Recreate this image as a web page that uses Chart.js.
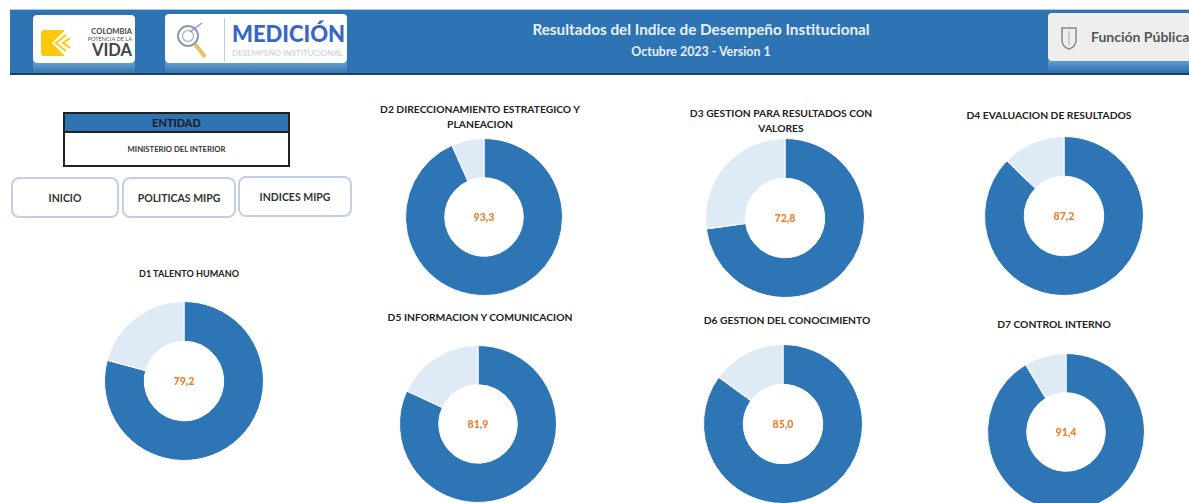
<!DOCTYPE html>
<html lang="es">
<head>
<meta charset="utf-8">
<title>Resultados del Indice de Desempeño Institucional</title>
<script src="https://cdn.jsdelivr.net/npm/chart.js@4"></script>
<style>
  html, body { margin: 0; width: 1189px; height: 503px; overflow: hidden; background: #fff; font-family: Lato, "Open Sans", sans-serif; }
  .abs { position: absolute; box-sizing: border-box; }
  #header { left: 10px; top: 9px; width: 1179px; height: 66px; background: #2e74b5; border-top: 1px solid #a9cbe6; border-bottom: 2px solid #1f3f5f; }
  .logo { background: #fff; border-radius: 4px; }
  .reflejo { top: 63px; height: 10px; background: linear-gradient(rgba(255,255,255,.28), rgba(255,255,255,.02)); }
  .head-txt { left: 347px; width: 708px; text-align: center; color: #e8f0f8; font-weight: 700; }
  #entidad { left: 63px; top: 112px; width: 227px; height: 55px; border: 2px solid #222; background: #fff; text-align: center; }
  #entidad .top { background: #2e74b5; height: 17px; line-height: 17px; font-size: 11px; font-weight: 700; color: #1a1a1a; border-bottom: 2px solid #222; box-sizing: content-box; }
  #entidad .bot { font-size: 7.7px; line-height: 33px; color: #333; font-weight: 700; }
  .btn { border: 2px solid #c3cfe6; border-radius: 8px; background: #fff; display: flex; align-items: center; justify-content: center; font-size: 10.5px; font-weight: 700; color: #333; }
  .titulo { width: 260px; text-align: center; font-size: 10.3px; line-height: 15px; font-weight: 700; color: #222; }
  .valor { width: 60px; text-align: center; font-size: 10.5px; line-height: 14px; font-weight: 900; color: #ed7d31; }
</style>
</head>
<body>
<div id="header" class="abs"></div>
<div class="abs reflejo" style="left:33px;width:102px"></div>
<div class="abs reflejo" style="left:165px;width:182px"></div>
<div class="abs reflejo" style="left:1048px;width:141px;top:61px"></div>
<div class="abs logo" style="left:33px;top:15px;width:102px;height:48px"></div>
<svg class="abs" style="left:41px;top:29px" width="36" height="28" viewBox="0 0 36 28">
  <path d="M3 1 H24 L11 14 L24 27 H3 Q0 27 0 24 V4 Q0 1 3 1 Z" fill="#fcc80c"/>
  <path d="M25 6 L15 14 L25 22" fill="none" stroke="#fcc80c" stroke-width="2"/>
  <path d="M29 9 L22 14 L29 19" fill="none" stroke="#fcc80c" stroke-width="2"/>
</svg>
<div class="abs" style="left:72px;top:28px;width:60px;text-align:right;font-size:7.6px;line-height:7px;font-weight:700;color:#444">COLOMBIA</div>
<div class="abs" style="left:72px;top:36px;width:60px;text-align:right;font-size:5.6px;line-height:5px;color:#555">POTENCIA DE LA</div>
<div class="abs" style="left:72px;top:42px;width:60px;text-align:right;font-size:16.5px;line-height:16px;font-weight:700;color:#444">VIDA</div>
<div class="abs logo" style="left:165px;top:14px;width:182px;height:49px"></div>
<svg class="abs" style="left:172px;top:20px" width="40" height="42" viewBox="0 0 40 42">
  <circle cx="16" cy="16" r="10" fill="none" stroke="#8c9aa8" stroke-width="2"/>
  <circle cx="16" cy="16" r="5.5" fill="none" stroke="#b4bfca" stroke-width="1.5"/>
  <line x1="18" y1="12" x2="30" y2="3" stroke="#7f9cc4" stroke-width="1.5"/>
  <line x1="23" y1="24" x2="33" y2="37" stroke="#e8c268" stroke-width="4"/>
</svg>
<div class="abs" style="left:224px;top:18px;width:1px;height:44px;background:#b8cde0"></div>
<div class="abs" style="left:232px;top:20px;font-size:22px;line-height:28px;font-weight:900;color:#3766c8">MEDICIÓN</div>
<div class="abs" style="left:232px;top:48px;font-size:8px;line-height:10px;color:#c3cfdd;white-space:nowrap">DESEMPEÑO INSTITUCIONAL</div>
<div class="abs head-txt" style="top:20px;font-size:15.3px;line-height:18px">Resultados del Indice de Desempeño Institucional</div>
<div class="abs head-txt" style="top:44px;font-size:12.4px;line-height:15px">Octubre 2023 - Version 1</div>
<div class="abs" style="left:1048px;top:13px;width:141px;height:48px;background:#eeeeee;border-radius:4px 0 0 4px"></div>
<svg class="abs" style="left:1059px;top:25px" width="20" height="26" viewBox="0 0 20 26">
  <path d="M3 3 H17 V15 Q17 22 10 24 Q3 22 3 15 Z" fill="none" stroke="#888" stroke-width="1.5"/>
  <line x1="10" y1="6" x2="10" y2="20" stroke="#aaa" stroke-width="1"/>
</svg>
<div class="abs" style="left:1091px;top:28px;font-size:14px;line-height:18px;font-weight:700;color:#555;white-space:nowrap">Función Pública</div>

<div id="entidad" class="abs"><div class="top">ENTIDAD</div><div class="bot">MINISTERIO DEL INTERIOR</div></div>
<div class="abs btn" style="left:11px;top:177px;width:108px;height:41px">INICIO</div>
<div class="abs btn" style="left:122px;top:177px;width:114px;height:41px">POLITICAS MIPG</div>
<div class="abs btn" style="left:238px;top:176px;width:114px;height:41px">INDICES MIPG</div>

<script>
// --- valori ---
const titulos = [
  "D1 TALENTO HUMANO",
  "D2 DIRECCIONAMIENTO ESTRATEGICO Y<br>PLANEACION",
  "D3 GESTION PARA RESULTADOS CON<br>VALORES",
  "D4 EVALUACION DE RESULTADOS",
  "D5 INFORMACION Y COMUNICACION",
  "D6 GESTION DEL CONOCIMIENTO",
  "D7 CONTROL INTERNO"
];
const valores = [79.2, 93.3, 72.8, 87.2, 81.9, 85.0, 91.4];
const restos  = [20.8, 6.7, 27.2, 12.8, 18.1, 15.0, 8.6];
const etiquetas = ["79,2", "93,3", "72,8", "87,2", "81,9", "85,0", "91,4"];

// --- posizione di ogni ciambella: centro, raggio, titolo ---
const centrosX = [184, 484, 785, 1064, 478, 783, 1066];
const centrosY = [381, 217, 218, 216, 424, 424, 432];
const raggi    = [79, 78, 79, 79, 78, 79, 78];
const tituloX  = [189, 480, 781, 1049, 480, 787, 1054];
const tituloY  = [266, 102, 106, 108, 310, 313, 317];

valores.forEach((v, i) => {
  const size = raggi[i] * 2 + 2;
  const box = document.createElement("div");
  box.className = "abs";
  box.style.cssText = "left:" + (centrosX[i] - size / 2) + "px;top:" + (centrosY[i] - size / 2) + "px;width:" + size + "px;height:" + size + "px";
  const canvas = document.createElement("canvas");
  box.appendChild(canvas);
  document.body.appendChild(box);

  new Chart(canvas, {
    type: "doughnut",
    data: {
      labels: ["Puntaje", "Resto"],
      datasets: [{
        data: [v, restos[i]],
        backgroundColor: ["#2e75b6", "#deeaf6"],
        borderColor: "#fff",
        borderWidth: 1
      }]
    },
    options: {
      responsive: true, maintainAspectRatio: false, animation: false,
      cutout: "50%",
      plugins: { legend: { display: false }, tooltip: { enabled: false } }
    }
  });

  const t = document.createElement("div");
  t.className = "abs titulo";
  t.style.left = (tituloX[i] - 130) + "px";
  t.style.top = tituloY[i] + "px";
  if (i === 0) t.style.fontSize = "9.1px"; // il titolo di D1 è più piccolo degli altri
  t.innerHTML = titulos[i];
  document.body.appendChild(t);

  const c = document.createElement("div");
  c.className = "abs valor";
  c.style.left = (centrosX[i] - 30) + "px";
  c.style.top = (centrosY[i] - 7) + "px";
  c.textContent = etiquetas[i];
  document.body.appendChild(c);
});
</script>
</body>
</html>
